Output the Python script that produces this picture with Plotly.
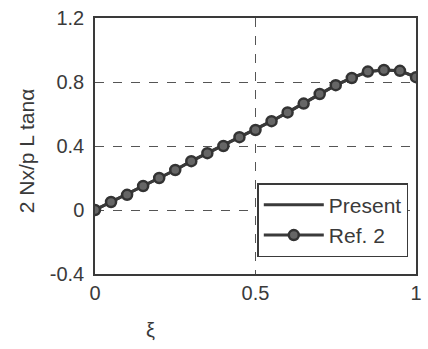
import plotly.graph_objects as go

xi = [0.0, 0.05, 0.1, 0.15, 0.2, 0.25, 0.3, 0.35, 0.4, 0.45, 0.5,
      0.55, 0.6, 0.65, 0.7, 0.75, 0.8, 0.85, 0.9, 0.95, 1.0]
present = [0.0, 0.05, 0.095, 0.15, 0.2, 0.25, 0.305, 0.355, 0.40, 0.455, 0.5,
           0.555, 0.61, 0.665, 0.725, 0.78, 0.825, 0.865, 0.875, 0.87, 0.83]
ref2 = list(present)

x_ticks = [0, 0.5, 1]
x_tick_text = ["0", "0.5", "1"]
y_ticks = [-0.4, 0, 0.4, 0.8, 1.2]
y_tick_text = ["-0.4", "0", "0.4", "0.8", "1.2"]

ink = "#3a3a3a"
fam = "Liberation Sans, Arial, sans-serif"
font = dict(family=fam, size=20, color=ink)

fig = go.Figure()
fig.add_trace(go.Scatter(x=xi, y=present, mode="lines", name="Present",
                         line=dict(color=ink, width=3)))
fig.add_trace(go.Scatter(x=xi, y=ref2, mode="lines+markers", name="Ref. 2",
                         line=dict(color=ink, width=3),
                         marker=dict(symbol="circle", size=10, color="#666666",
                                     line=dict(color="#333333", width=2.5))))

grid = dict(showgrid=True, gridcolor="#555555", griddash="dash", gridwidth=1)
fig.update_xaxes(range=[0, 1], tickvals=x_ticks, ticktext=x_tick_text,
                 showline=True, linecolor=ink, linewidth=1.5, mirror=True,
                 zeroline=False, ticks="", tickfont=font, **grid)
fig.update_yaxes(range=[-0.4, 1.2], tickvals=y_ticks, ticktext=y_tick_text,
                 showline=True, linecolor=ink, linewidth=1.5, mirror=True,
                 zeroline=False, ticks="", tickfont=font, ticklabelstandoff=5, **grid)

fig.add_annotation(text="ξ", xref="paper", yref="paper", x=(152-95)/327, y=-0.22,
                   showarrow=False, font=dict(family=fam, size=20, color=ink),
                   xanchor="center", yanchor="middle")
fig.add_annotation(text="2 Nx/p L tanα", xref="paper", yref="paper",
                   x=(25-95)/327, y=(274-151)/256, textangle=-90, showarrow=False,
                   font=dict(family=fam, size=21, color=ink),
                   xanchor="center", yanchor="middle")

fig.update_layout(
    width=428, height=349,
    margin=dict(l=95, r=6, t=18, b=75),
    paper_bgcolor="white", plot_bgcolor="white",
    font=font,
    legend=dict(x=0.976, y=0.066, xanchor="right", yanchor="bottom",
                bgcolor="white", bordercolor=ink, borderwidth=1.5,
                font=dict(family=fam, size=21, color=ink),
                itemwidth=60, tracegroupgap=0),
)
fig.write_html("out.html")
